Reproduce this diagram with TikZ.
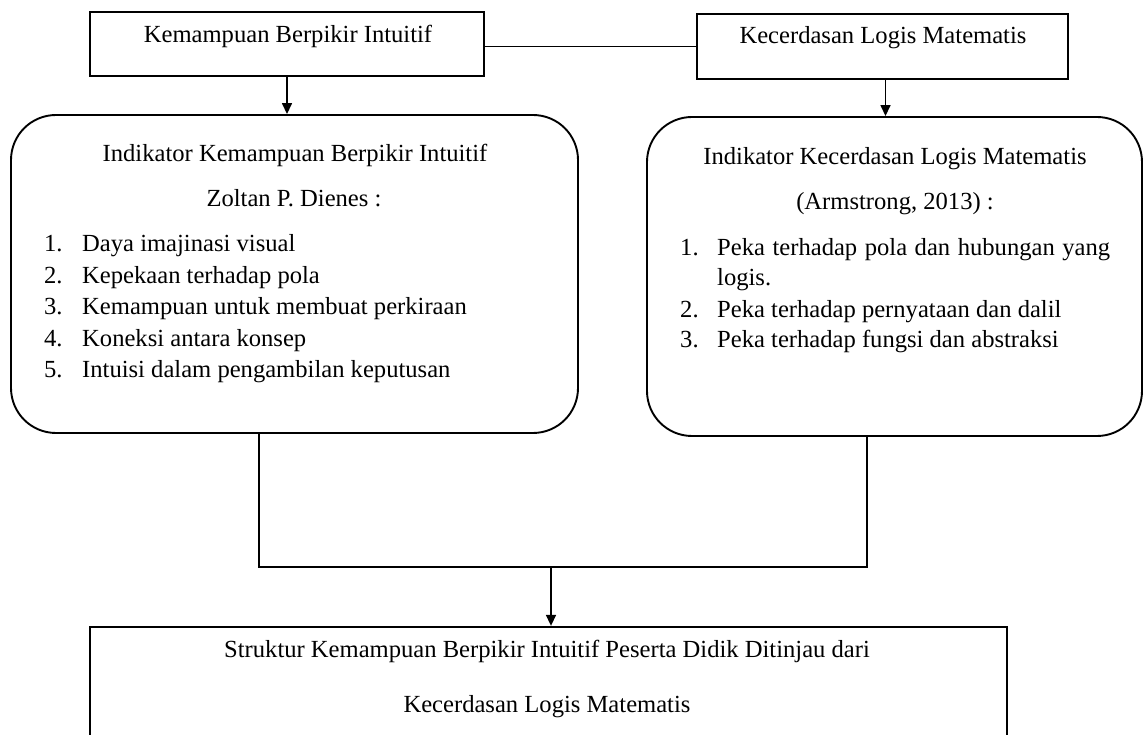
\documentclass[tikz,border=0pt]{standalone}
\usepackage{fontspec}
\setmainfont{Liberation Serif}
\usetikzlibrary{arrows.meta}
\begin{document}
\begin{tikzpicture}[x=1pt,y=-1pt,
  every node/.style={font=\fontsize{24.6}{30}\selectfont, inner sep=0pt},
  box/.style={draw, line width=1.9pt},
  roundbox/.style={draw, line width=1.9pt, rounded corners=45pt},
  conn/.style={line width=1.5pt},
  arr/.style={conn, -{Triangle[length=11pt,width=10pt]}},
  txt/.style={anchor=base},
  itm/.style={anchor=base west}
]
\clip (0,0) rectangle (1144,735);
\fill[white] (0,0) rectangle (1144,735);

% top boxes
\node[box, minimum width=394pt, minimum height=64pt] (kbi) at (287,44) {};
\node[box, minimum width=371pt, minimum height=65pt] (kl) at (882.5,46.5) {};
\node[txt] (kbiT) at (288,43) {Kemampuan Berpikir Intuitif};
\node[txt] (klT) at (883,44) {Kecerdasan Logis Matematis};

% rounded boxes
\node[roundbox, minimum width=567pt, minimum height=318pt] (lb) at (294.5,274) {};
\node[roundbox, minimum width=495pt, minimum height=319pt] (rb) at (894.5,276.5) {};

% bottom box
\node[draw, line width=2.3pt, minimum width=917pt, minimum height=153pt] (bb) at (548.5,703.5) {};

% connectors
\draw[conn] (kbi.east |- kl.west) -- (kl.west);
\draw[arr] (kbi.south) -- (kbi.south |- lb.north);
\draw[arr] ([xshift=3pt]kl.south) -- ([xshift=3pt]kl.south |- rb.north);

\coordinate (jl) at (259,567);
\coordinate (jr) at (867,567);
\coordinate (jm) at (551,567);
\draw[conn] (lb.south -| jl) -- (jl) -- (jr) -- (rb.south -| jr);
\draw[arr] (jm) -- (jm |- bb.north);

% left box text
\node[txt] (lt1) at (295,162) {Indikator Kemampuan Berpikir Intuitif};
\node[txt] (lt2) at (294,207) {Zoltan P. Dienes :};
\node[itm] (ln1) at (44,252) {1.};
\node[itm] (li1) at (82,252) {Daya imajinasi visual};
\node[itm] (ln2) at (44,283.5) {2.};
\node[itm] (li2) at (82,283.5) {Kepekaan terhadap pola};
\node[itm] (ln3) at (44,315) {3.};
\node[itm] (li3) at (82,315) {Kemampuan untuk membuat perkiraan};
\node[itm] (ln4) at (44,346.5) {4.};
\node[itm] (li4) at (82,346.5) {Koneksi antara konsep};
\node[itm] (ln5) at (44,378) {5.};
\node[itm] (li5) at (82,378) {Intuisi dalam pengambilan keputusan};

% right box text
\node[txt] (rt1) at (895,165) {Indikator Kecerdasan Logis Matematis};
\node[txt] (rt2) at (895,210) {(Armstrong, 2013) :};
\node[itm] (rn1) at (680,256) {1.};
\node[itm] (ri1) at (717,256) {\makebox[393pt][s]{Peka terhadap pola dan hubungan yang}};
\node[itm] (ri1b) at (717,286) {logis.};
\node[itm] (rn2) at (680,318) {2.};
\node[itm] (ri2) at (717,318) {Peka terhadap pernyataan dan dalil};
\node[itm] (rn3) at (680,348) {3.};
\node[itm] (ri3) at (717,348) {Peka terhadap fungsi dan abstraksi};

% bottom text
\node[txt] (bt1) at (547,657) {Struktur Kemampuan Berpikir Intuitif Peserta Didik Ditinjau dari};
\node[txt] (bt2) at (547,712) {Kecerdasan Logis Matematis};
\end{tikzpicture}
\end{document}
